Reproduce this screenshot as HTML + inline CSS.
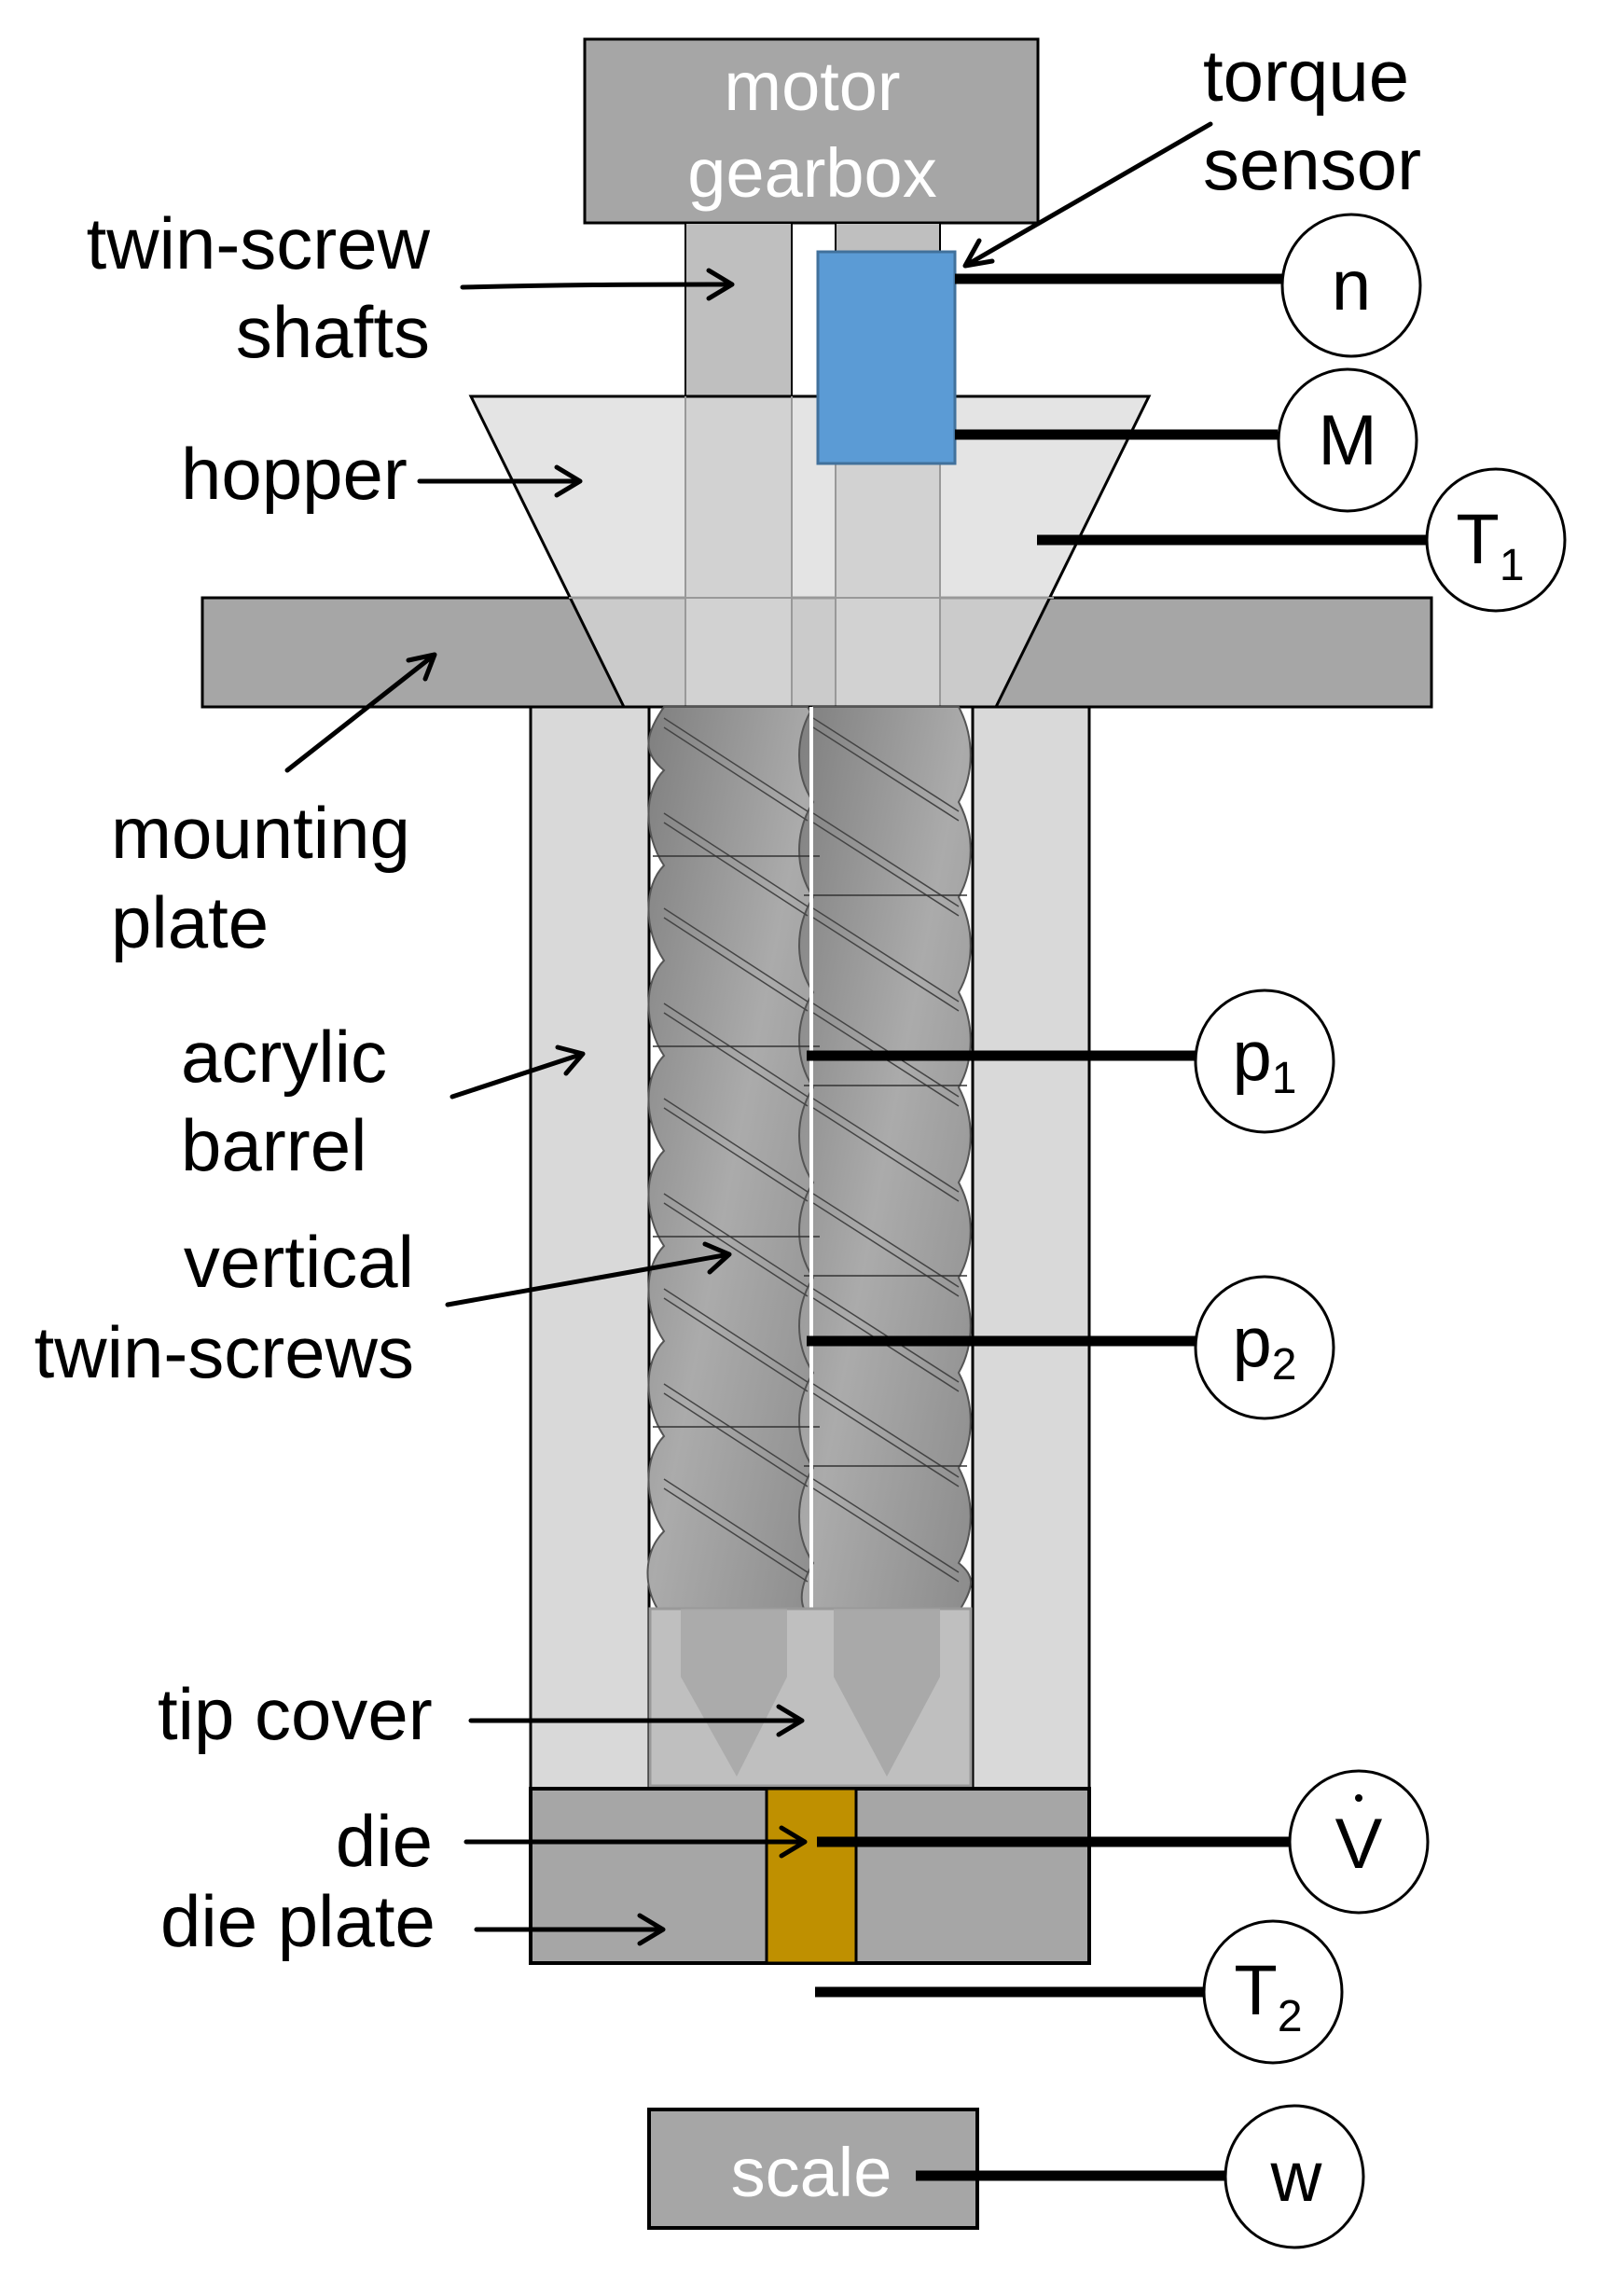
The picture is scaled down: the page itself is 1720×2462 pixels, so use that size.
<!DOCTYPE html>
<html><head><meta charset="utf-8"><style>
html,body{margin:0;padding:0;background:#fff}
svg{display:block}
text{font-family:"Liberation Sans",Arial,sans-serif}
</style></head><body>
<svg width="1720" height="2462" viewBox="0 0 1720 2462" xmlns="http://www.w3.org/2000/svg">
<defs>
<linearGradient id="sg" x1="0" y1="0" x2="1" y2="1">
<stop offset="0" stop-color="#7f7f7f"/><stop offset="0.5" stop-color="#ababab"/><stop offset="1" stop-color="#8c8c8c"/>
</linearGradient>
</defs>

<rect x="627" y="42" width="486" height="197" fill="#a6a6a6" stroke="#000" stroke-width="3"/>
<text x="871" y="118" font-size="74" fill="#fff" text-anchor="middle">motor</text>
<text x="871" y="211" font-size="74" fill="#fff" text-anchor="middle">gearbox</text>

<rect x="217" y="641" width="1318" height="117" fill="#a6a6a6" stroke="#000" stroke-width="3"/>

<rect x="735" y="239" width="114" height="519" fill="#bfbfbf" stroke="#000" stroke-width="2"/>
<rect x="896" y="239" width="112" height="519" fill="#bfbfbf" stroke="#000" stroke-width="2"/>

<polygon points="505,425 1232,425 1068,758 669,758" fill="#d9d9d9" fill-opacity="0.72" stroke="#000" stroke-width="3"/>
<line x1="735" y1="425" x2="735" y2="758" stroke="#999" stroke-width="2"/>
<line x1="849" y1="425" x2="849" y2="758" stroke="#999" stroke-width="2"/>
<line x1="896" y1="425" x2="896" y2="758" stroke="#999" stroke-width="2"/>
<line x1="1008" y1="425" x2="1008" y2="758" stroke="#999" stroke-width="2"/>
<line x1="610" y1="641" x2="1130" y2="641" stroke="#999" stroke-width="2"/>

<rect x="877" y="270" width="147" height="227" fill="#5b9bd5" stroke="#41719c" stroke-width="3"/>

<rect x="569" y="758" width="599" height="1160" fill="#fff" stroke="#000" stroke-width="3"/>
<rect x="569" y="758" width="127" height="1160" fill="#d9d9d9" stroke="#000" stroke-width="3"/>
<rect x="1043" y="758" width="125" height="1160" fill="#d9d9d9" stroke="#000" stroke-width="3"/>

<g stroke="#555" stroke-width="2">
<path d="M712,758 C690,790 690,808 712,826 C690,848 690,895 712,928 C690,950 690,997 712,1030 C690,1052 690,1099 712,1132 C690,1154 690,1201 712,1234 C690,1256 690,1303 712,1336 C690,1358 690,1405 712,1438 C690,1460 690,1507 712,1540 C690,1562 690,1609 712,1642 C690,1664 690,1700 705,1725 L872,1725 C885,1700 885,1664 866,1642 C885,1609 885,1562 866,1540 C885,1507 885,1460 866,1438 C885,1405 885,1358 866,1336 C885,1303 885,1256 866,1234 C885,1201 885,1154 866,1132 C885,1099 885,1052 866,1030 C885,997 885,950 866,928 C885,895 885,848 866,826 C885,808 885,790 866,758 Z" fill="url(#sg)"/>
<path d="M872,758 C852,790 852,830 872,860 C852,892 852,932 872,962 C852,994 852,1034 872,1064 C852,1096 852,1136 872,1166 C852,1198 852,1238 872,1268 C852,1300 852,1340 872,1370 C852,1402 852,1442 872,1472 C852,1504 852,1544 872,1574 C852,1606 852,1646 872,1676 C858,1700 858,1715 862,1725 L1030,1725 C1045,1700 1045,1690 1028,1676 C1045,1646 1045,1606 1028,1574 C1045,1544 1045,1504 1028,1472 C1045,1442 1045,1402 1028,1370 C1045,1340 1045,1300 1028,1268 C1045,1238 1045,1198 1028,1166 C1045,1136 1045,1096 1028,1064 C1045,1034 1045,994 1028,962 C1045,932 1045,892 1028,860 C1045,830 1045,790 1028,758 Z" fill="url(#sg)"/>
</g>
<g stroke="#444" stroke-width="1.5" fill="none">
<path d="M712,770 L866,870 M712,872 L866,972 M712,974 L866,1074 M712,1076 L866,1176 M712,1178 L866,1278 M712,1280 L866,1380 M712,1382 L866,1482 M712,1484 L866,1584 M712,1586 L866,1686"/>
<path d="M712,780 L866,880 M712,882 L866,982 M712,984 L866,1084 M712,1086 L866,1186 M712,1188 L866,1288 M712,1290 L866,1390 M712,1392 L866,1492 M712,1494 L866,1594 M712,1596 L866,1696"/>
<path d="M872,770 L1028,870 M872,872 L1028,972 M872,974 L1028,1074 M872,1076 L1028,1176 M872,1178 L1028,1278 M872,1280 L1028,1380 M872,1382 L1028,1482 M872,1484 L1028,1584 M872,1586 L1028,1686"/>
<path d="M872,780 L1028,880 M872,882 L1028,982 M872,984 L1028,1084 M872,1086 L1028,1186 M872,1188 L1028,1288 M872,1290 L1028,1390 M872,1392 L1028,1492 M872,1494 L1028,1594 M872,1596 L1028,1696"/>
<path d="M700,918 H879 M700,1122 H879 M700,1326 H879 M700,1530 H879 M862,960 H1037 M862,1164 H1037 M862,1368 H1037 M862,1572 H1037" stroke="#333"/>
</g>
<line x1="870" y1="758" x2="870" y2="1725" stroke="#fff" stroke-width="4"/>

<rect x="697" y="1725" width="344" height="190" fill="#bfbfbf" stroke="#999" stroke-width="3"/>
<polygon points="730,1725 844,1725 844,1798 790,1905 730,1798" fill="#a6a6a6" fill-opacity="0.8"/>
<polygon points="894,1725 1008,1725 1008,1798 951,1905 894,1798" fill="#a6a6a6" fill-opacity="0.9"/>

<rect x="569" y="1918" width="599" height="187" fill="#a6a6a6" stroke="#000" stroke-width="4"/>
<rect x="822" y="1918" width="96" height="187" fill="#bf9000" stroke="#000" stroke-width="3"/>

<rect x="696" y="2262" width="352" height="127" fill="#a6a6a6" stroke="#000" stroke-width="4"/>
<text x="870" y="2355" font-size="74" fill="#fff" text-anchor="middle">scale</text>

<g stroke="#000" stroke-width="11">
<line x1="1024" y1="299" x2="1376" y2="299"/>
<line x1="1024" y1="466" x2="1370" y2="466"/>
<line x1="1112" y1="579" x2="1530" y2="579"/>
<line x1="865" y1="1132" x2="1282" y2="1132"/>
<line x1="865" y1="1438" x2="1282" y2="1438"/>
<line x1="876" y1="1975" x2="1383" y2="1975"/>
<line x1="874" y1="2136" x2="1291" y2="2136"/>
<line x1="982" y1="2333" x2="1313" y2="2333"/>
</g>

<g fill="#fff" stroke="#000" stroke-width="3">
<ellipse cx="1449" cy="306" rx="74" ry="76"/>
<ellipse cx="1445" cy="472" rx="74" ry="76"/>
<ellipse cx="1604" cy="579" rx="74" ry="76"/>
<ellipse cx="1356" cy="1138" rx="74" ry="76"/>
<ellipse cx="1356" cy="1445" rx="74" ry="76"/>
<ellipse cx="1457" cy="1975" rx="74" ry="76"/>
<ellipse cx="1365" cy="2136" rx="74" ry="76"/>
<ellipse cx="1388" cy="2334" rx="74" ry="76"/>
</g>
<g font-size="76" fill="#000" text-anchor="middle">
<text x="1449" y="332">n</text>
<text x="1445" y="498">M</text>
<text x="1598" y="604">T<tspan font-size="48" dy="18">1</tspan></text>
<text x="1356" y="1158">p<tspan font-size="48" dy="14">1</tspan></text>
<text x="1356" y="1465">p<tspan font-size="48" dy="14">2</tspan></text>
<text x="1457" y="2003">V</text>
<text x="1360" y="2160">T<tspan font-size="48" dy="18">2</tspan></text>
<text x="1390" y="2360">w</text>
</g>
<circle cx="1457" cy="1928" r="4" fill="#000"/>

<g font-size="78" fill="#000">
<text x="1290" y="108">torque</text>
<text x="1290" y="203">sensor</text>
<text x="461" y="288" text-anchor="end">twin-screw</text>
<text x="461" y="383" text-anchor="end">shafts</text>
<text x="194" y="535">hopper</text>
<text x="119" y="920">mounting</text>
<text x="119" y="1016">plate</text>
<text x="194" y="1160">acrylic</text>
<text x="194" y="1255">barrel</text>
<text x="444" y="1380" text-anchor="end">vertical</text>
<text x="444" y="1477" text-anchor="end">twin-screws</text>
<text x="169" y="1865">tip cover</text>
<text x="464" y="2001" text-anchor="end">die</text>
<text x="172" y="2087">die plate</text>
</g>

<g stroke="#000" stroke-width="5" fill="none" stroke-linecap="round">
<path d="M1298,133 L1035,285 M1035,285 L1050,258 M1035,285 L1064,280"/>
<path d="M496,308 C620,305 700,305 785,305 M785,305 L760,290 M785,305 L760,320"/>
<path d="M450,516 L622,516 M622,516 L597,501 M622,516 L597,531"/>
<path d="M308,826 L466,702 M466,702 L438,708 M466,702 L456,728"/>
<path d="M485,1176 L625,1130 M625,1130 L598,1123 M625,1130 L607,1151"/>
<path d="M480,1399 L782,1345 M782,1345 L756,1334 M782,1345 L761,1364"/>
<path d="M505,1845 L860,1845 M860,1845 L835,1830 M860,1845 L835,1860"/>
<path d="M500,1975 L863,1975 M863,1975 L838,1960 M863,1975 L838,1990"/>
<path d="M511,2069 L711,2069 M711,2069 L686,2054 M711,2069 L686,2084"/>
</g>
</svg>
</body></html>
